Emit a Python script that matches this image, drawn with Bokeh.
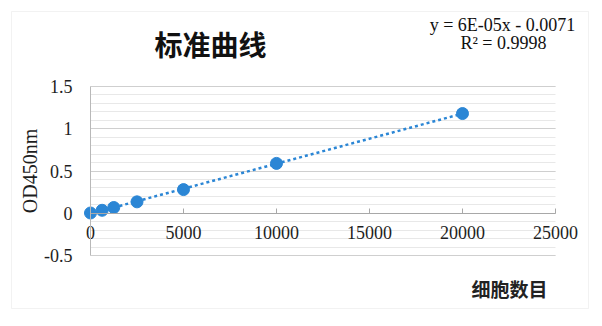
import numpy as np
from bokeh.plotting import figure
from bokeh.models import (Range1d, FixedTicker, CustomJSTickFormatter, Label,
                          BoxAnnotation, ColumnDataSource, Grid)
from bokeh.embed import file_html
from bokeh.resources import INLINE

# ---- data ----
cell_counts = [0, 625, 1250, 2500, 5000, 10000, 20000]
od450 = [0.003, 0.035, 0.068, 0.135, 0.28, 0.59, 1.18]
x_ticks = [0, 5000, 10000, 15000, 20000, 25000]
y_ticks = [-0.5, 0, 0.5, 1, 1.5]
y_minor = [round(-0.5 + 0.1 * i, 1) for i in range(21)]
title_text = "标准曲线"
x_label = "细胞数目"
y_label = "OD450nm"
eq_line1 = "y = 6E-05x - 0.0071"
eq_line2 = "R² = 0.9998"

BLUE = "#2B86D5"
SERIF = "Liberation Serif"
CJK = "Noto Sans CJK SC"
TXT = "#1e1e1e"

# The frame spans the whole canvas; axes are pinned at x=0 / y=0 and bounded,
# so that the title and equation texts can sit around the plot area.
p = figure(width=602, height=326, output_backend="svg", toolbar_location=None,
           title_location=None,
           x_range=Range1d(-4838.7, 27526.9), y_range=Range1d(-1.3402, 2.5178),
           min_border=0, min_border_left=0, min_border_right=0,
           min_border_top=0, min_border_bottom=0,
           background_fill_color="white", border_fill_color="white",
           outline_line_color=None)

# outer chart border
p.add_layout(BoxAnnotation(left=-4247, right=26774, top=2.3876, bottom=-1.1272,
                           fill_alpha=0, line_color="#d4d4d4", line_width=1,
                           level="underlay"))

# horizontal grid lines over the plot area only
p.xgrid.visible = False
if "cross_bounds" in Grid.properties():
    g = p.ygrid[0]
    g.ticker = FixedTicker(ticks=y_ticks, minor_ticks=y_minor)
    g.bounds = (-0.5, 1.5)
    g.cross_bounds = (0, 25000)
    g.grid_line_color = "#cfcfcf"
    g.minor_grid_line_color = "#e8e8e8"
else:
    p.ygrid.visible = False
    minor_only = [v for v in y_minor if v not in y_ticks]
    p.segment(x0=0, x1=25000, y0=minor_only, y1=minor_only,
              line_color="#e8e8e8", line_width=1, level="underlay")
    p.segment(x0=0, x1=25000, y0=y_ticks, y1=y_ticks,
              line_color="#cfcfcf", line_width=1, level="underlay")

# x axis at y = 0
xa = p.xaxis[0]
xa.ticker = FixedTicker(ticks=x_ticks)
xa.fixed_location = 0
xa.bounds = (0, 25000)
xa.axis_line_color = "#a8a8a8"
xa.major_tick_line_color = "#a8a8a8"
xa.major_tick_in = 5
xa.major_tick_out = 0
xa.minor_tick_line_color = None
xa.major_label_standoff = 13
xa.major_label_text_font = SERIF
xa.major_label_text_font_size = "18px"
xa.major_label_text_color = TXT

# y axis at x = 0
ya = p.yaxis[0]
ya.ticker = FixedTicker(ticks=y_ticks)
ya.fixed_location = 0
ya.bounds = (-0.5, 1.5)
ya.formatter = CustomJSTickFormatter(code="return tick.toString();")
ya.axis_line_color = "#b8b8b8"
ya.major_tick_line_color = None
ya.minor_tick_line_color = None
ya.major_label_standoff = 12
ya.major_label_text_font = SERIF
ya.major_label_text_font_size = "18px"
ya.major_label_text_color = TXT
ya.axis_label = y_label
ya.axis_label_text_font = SERIF
ya.axis_label_text_font_size = "20px"
ya.axis_label_text_font_style = "normal"
ya.axis_label_text_color = TXT
ya.axis_label_standoff = 0

# trendline (linear fit of the data)
slope, intercept = np.polyfit(cell_counts, od450, 1)
tx = [min(cell_counts), max(cell_counts)]
ty = [slope * v + intercept for v in tx]
p.line(tx, ty, line_color=BLUE, line_width=2.5, line_dash="3 3")

src = ColumnDataSource(dict(x=cell_counts, y=od450))
p.scatter("x", "y", source=src, size=12, fill_color=BLUE, line_color=BLUE)

# texts
p.add_layout(Label(x=6452, y=2.0, text=title_text, text_font=CJK,
                   text_font_size="28px", text_font_style="bold",
                   text_align="center", text_baseline="middle",
                   text_color="#111111"))
p.add_layout(Label(x=22151, y=2.222, text=eq_line1, text_font=SERIF,
                   text_font_size="18px", text_align="center",
                   text_baseline="middle", text_color="#111111"))
p.add_layout(Label(x=22204, y=2.009, text=eq_line2, text_font=SERIF,
                   text_font_size="18px", text_align="center",
                   text_baseline="middle", text_color="#111111"))
p.add_layout(Label(x=22527, y=-0.8905, text=x_label, text_font=CJK,
                   text_font_size="19px", text_font_style="bold",
                   text_align="center", text_baseline="middle",
                   text_color="#222222"))

open("out.html", "w").write(file_html(p, INLINE))
